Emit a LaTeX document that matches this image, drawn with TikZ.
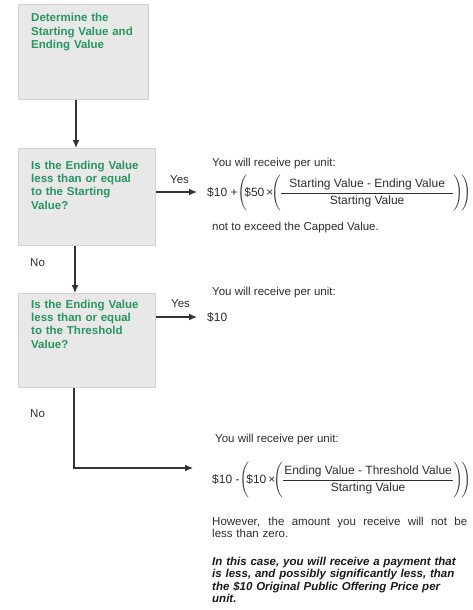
\documentclass[tikz,border=0pt]{standalone}
\usepackage{fontspec}
\usepackage{amsmath}
\setmainfont{Liberation Sans}
\usetikzlibrary{arrows.meta}
\definecolor{boxgreen}{RGB}{40,150,95}
\definecolor{boxfill}{RGB}{232,232,232}
\definecolor{boxline}{RGB}{210,210,210}
\definecolor{txt}{RGB}{45,45,45}
\begin{document}
\begin{tikzpicture}[x=1pt,y=1pt,
  font=\fontsize{11.5}{13.4}\selectfont,
  box/.style={draw=boxline, fill=boxfill, line width=1pt, anchor=north west, inner sep=0pt},
  btxt/.style={anchor=base west, inner sep=0pt, text width=125pt, align=left, text=boxgreen,
    font=\fontsize{11.5}{13.4}\selectfont\bfseries},
  lbl/.style={anchor=base west, inner sep=0pt, text=txt},
  frm/.style={anchor=base west, inner sep=0pt, text=txt, font=\fontsize{12}{14}\selectfont},
  arr/.style={draw=black!80, line width=1.2pt, -{Latex[length=8pt,width=7pt]}}]
\useasboundingbox (0,0) rectangle (472,-610);

% boxes
\node[box, minimum width=130pt, minimum height=95pt] (b1) at (18,-4) {};
\node[box, minimum width=137pt, minimum height=97pt] (b2) at (18,-148) {};
\node[box, minimum width=137pt, minimum height=94pt] (b3) at (18,-293) {};

\node[btxt] (b1t) at (31,-22) {Determine the\\Starting Value and\\Ending Value};
\node[btxt] (b2t) at (31,-169) {Is the Ending Value\\less than or equal\\to the Starting\\Value?};
\node[btxt] (b3t) at (31,-308) {Is the Ending Value\\less than or equal\\to the Threshold\\Value?};

% right-hand texts
\node[lbl] (t1) at (212,-166) {You will receive per unit:};
\node[frm] (f1) at (207,-196) {\smash{\$10 +\,$\mkern-3mu\Biggl(\mkern-4mu\text{\$50\,×}\mkern-3mu\Biggl(\mkern-2mu\dfrac{\text{\hspace{8.5pt}Starting Value - Ending Value\hspace{8.5pt}}}{\text{Starting Value}}\mkern-2mu\Biggr)\mkern-2mu\Biggr)$}};
\node[lbl] (t2) at (212,-230) {not to exceed the Capped Value.};

\node[lbl] (t3) at (212,-295) {You will receive per unit:};
\node[lbl, font=\fontsize{12}{14}\selectfont] (d10) at (207,-321) {\$10};

\node[lbl] (t4) at (215,-442) {You will receive per unit:};
\node[frm] (f2) at (212,-483) {\smash{\$10 -\,$\mkern-3mu\Biggl(\mkern-4mu\text{\$10\,×}\mkern-3mu\Biggl(\mkern-2mu\dfrac{\text{\hspace{1.5pt}Ending Value - Threshold Value\hspace{1.5pt}}}{\text{Starting Value}}\mkern-2mu\Biggr)\mkern-2mu\Biggr)$}};

\node[lbl, text width=255pt, align=left, font=\fontsize{11.5}{12.7}\selectfont] (t5) at (212,-525)
  {\hbox to 255pt{\spaceskip=3.2pt plus 1fil However, the amount you receive will not be}\\less than zero.};
\node[lbl, text width=258pt, align=left, text=black!90, font=\fontsize{11.5}{12.5}\selectfont\bfseries\itshape] (t6) at (212,-565)
  {In this case, you will receive a payment that\\is less, and possibly significantly less, than\\the \$10 Original Public Offering Price per\\unit.};

% labels
\node[lbl] (yes1) at (170,-183) {Yes};
\node[lbl] (yes2) at (171,-307) {Yes};
\node[lbl] (no1) at (30,-266) {No};
\node[lbl] (no2) at (30,-417) {No};

% connectors
\coordinate (x1) at (76,0);
\coordinate (x2) at (75,0);
\coordinate (x3) at (74,0);
\coordinate (c3) at (193,-468);
\draw[arr] (b1.south -| x1) -- (b2.north -| x1);
\draw[arr] (b2.south -| x2) -- (b3.north -| x2);
\draw[arr] ([yshift=4pt]b2.east |- f1.base west) -- ([xshift=-10pt,yshift=4pt]f1.base west);
\draw[arr] ([yshift=4pt]b3.east |- d10.base west) -- ([xshift=-10pt,yshift=4pt]d10.base west);
\draw[arr] (b3.south -| x3) |- (c3);
\end{tikzpicture}
\end{document}
